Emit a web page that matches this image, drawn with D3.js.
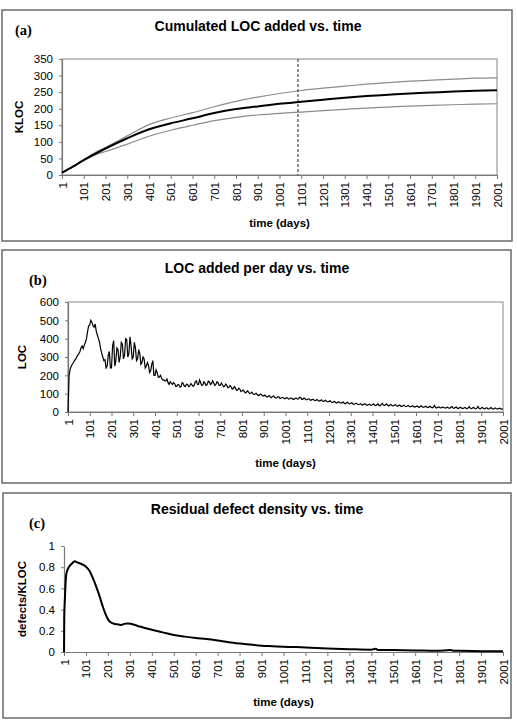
<!DOCTYPE html>
<html lang="en">
<head>
<meta charset="UTF-8">
<title>LOC and defect density vs. time</title>
<script src="https://d3js.org/d3.v7.min.js"></script>
<style>
  body { margin: 0; background: #fff; }
  svg text { font-family: "Liberation Sans", Arial, sans-serif; }
  .tick text { font-size: 11.5px; fill: #000; }
  .ttl { font-weight: bold; font-size: 14px; }
  .axt { font-weight: bold; font-size: 11.5px; }
  .tag { font-family: "Liberation Serif", "Times New Roman", serif; font-weight: bold; font-size: 14.5px; }
</style>
</head>
<body>
<div id="chart"></div>
<script>
// x categories shown on every panel
const xTickLabels = [1, 101, 201, 301, 401, 501, 601, 701, 801, 901, 1001,
                     1101, 1201, 1301, 1401, 1501, 1601, 1701, 1801, 1901, 2001];

// (a) cumulated KLOC
const daysA  = [1, 51, 101, 151, 201, 301, 401, 501, 601, 701, 801, 901, 1001, 1101, 1201, 1301, 1401, 1501, 1601, 1701, 1801, 1901, 2001];
const klocMean  = [7, 25, 45, 63, 80, 111, 138, 156, 171, 187, 199, 207, 215, 221, 227, 233, 238, 242, 246, 249, 252, 254, 256];
const klocUpper = [7, 25, 46, 67, 83, 118, 152, 172, 188, 206, 222, 235, 246, 255, 262, 268, 274, 279, 283, 286, 289, 292, 293];
const klocLower = [7, 25, 44, 60, 71, 93, 117, 135, 150, 164, 174, 181, 186, 190, 194, 198, 202, 205, 208, 210, 212, 214, 215];
const markerDay = 1086;
const yTicksA = [0, 50, 100, 150, 200, 250, 300, 350];

// (b) LOC added per day, one value every 5 days from day 1
const locPerDay = [
  0, 200, 235, 250, 262, 270, 280, 288, 300, 310,
  318, 330, 350, 360, 345, 365, 380, 400, 440, 470,
  475, 500, 490, 470, 462, 480, 440, 420, 400, 380,
  345, 320, 300, 280, 285, 240, 250, 310, 330, 240,
  240, 360, 390, 250, 280, 350, 340, 270, 300, 380,
  370, 290, 310, 400, 395, 300, 320, 410, 360, 290,
  300, 380, 350, 280, 290, 340, 320, 260, 270, 300,
  290, 240, 250, 270, 255, 215, 225, 260, 280, 200,
  200, 230, 215, 190, 190, 200, 185, 175, 175, 170,
  170, 180, 160, 150, 165, 158, 150, 160, 155, 140,
  140, 150, 148, 135, 138, 160, 155, 140, 140, 152,
  150, 138, 142, 155, 148, 140, 145, 165, 170, 150,
  150, 175, 160, 145, 148, 165, 158, 145, 150, 168,
  165, 150, 155, 170, 158, 145, 150, 165, 160, 145,
  145, 158, 150, 138, 140, 152, 145, 132, 135, 145,
  138, 125, 128, 138, 130, 118, 120, 130, 125, 112,
  115, 120, 112, 104, 108, 115, 110, 100, 102, 108,
  100, 95, 98, 102, 95, 90, 92, 98, 94, 88,
  88, 92, 86, 82, 85, 90, 82, 78, 84, 88,
  80, 76, 78, 84, 82, 74, 76, 80, 78, 72,
  74, 78, 76, 70, 72, 77, 74, 68, 70, 75,
  76, 70, 72, 80, 78, 68, 70, 76, 72, 66,
  68, 72, 70, 64, 66, 70, 67, 62, 64, 68,
  63, 60, 62, 66, 60, 57, 61, 64, 57, 55,
  58, 61, 55, 52, 54, 58, 52, 49, 53, 56,
  50, 48, 51, 54, 48, 45, 50, 53, 46, 44,
  48, 51, 44, 42, 45, 48, 43, 40, 42, 45,
  40, 38, 42, 45, 39, 36, 40, 43, 38, 36,
  41, 45, 37, 35, 40, 44, 36, 34, 42, 47,
  38, 35, 40, 44, 36, 33, 38, 41, 35, 33,
  37, 40, 34, 31, 35, 38, 32, 30, 34, 37,
  31, 29, 33, 36, 30, 28, 31, 34, 29, 27,
  30, 33, 28, 26, 30, 34, 27, 25, 29, 32,
  26, 24, 28, 31, 25, 23, 27, 36, 24, 22,
  26, 28, 24, 22, 25, 27, 23, 21, 24, 26,
  22, 20, 26, 30, 22, 20, 24, 27, 21, 19,
  23, 26, 21, 19, 22, 25, 20, 18, 24, 29,
  20, 18, 22, 26, 19, 17, 21, 30, 19, 17,
  22, 25, 19, 17, 20, 23, 18, 16, 20, 24,
  18, 16, 19, 22, 18, 16, 19, 21, 17, 16,
  18
];
const daysB = locPerDay.map((v, i) => 1 + i * 5);
const yTicksB = [0, 100, 200, 300, 400, 500, 600];

// (c) residual defect density
const daysC = [1, 2, 4, 7, 12, 23, 35, 51, 61, 75, 91, 101, 119, 134, 149, 164, 179, 194, 210, 232,
               250, 262, 275, 290, 308, 346, 401, 451, 501, 551, 601, 651, 701, 751, 801, 851, 901, 951,
               1001, 1101, 1201, 1301, 1401, 1421, 1431, 1501, 1601, 1701, 1761, 1781, 1801, 1901, 2001];
const defects = [0, 0.33, 0.45, 0.6, 0.74, 0.8, 0.83, 0.855, 0.845, 0.835, 0.82, 0.805, 0.76, 0.69, 0.61, 0.52, 0.42, 0.34, 0.285, 0.265,
                 0.26, 0.255, 0.265, 0.27, 0.265, 0.24, 0.21, 0.185, 0.16, 0.145, 0.132, 0.122, 0.108, 0.092, 0.08, 0.07, 0.06, 0.055,
                 0.05, 0.043, 0.034, 0.027, 0.022, 0.03, 0.02, 0.018, 0.015, 0.012, 0.018, 0.012, 0.011, 0.008, 0.006];
const yTicksC = [0, 0.2, 0.4, 0.6, 0.8, 1];

const W = 517, H = 720;
const svg = d3.select("#chart").append("svg")
    .attr("width", W).attr("height", H);

// outer frames
const frames = [[2, 10, 510, 231], [2, 250, 509, 233], [3, 493, 508, 225]];
svg.selectAll("rect.frame").data(frames).enter().append("rect")
    .attr("class", "frame")
    .attr("x", d => d[0]).attr("y", d => d[1])
    .attr("width", d => d[2]).attr("height", d => d[3])
    .attr("fill", "none").attr("stroke", "#6a6a6a").attr("stroke-width", 1.5);

function panel(p) {
  const x = d3.scaleLinear().domain([1, 2001]).range([p.left, p.right]);
  const y = d3.scaleLinear().domain(p.yDomain).range([p.bottom, p.top]);
  const g = svg.append("g");

  if (p.box) {
    g.append("rect")
      .attr("x", p.left).attr("y", p.top)
      .attr("width", p.right - p.left).attr("height", p.bottom - p.top)
      .attr("fill", "none").attr("stroke", "#9a9a9a").attr("stroke-width", 1.2);
  }

  const xa = g.append("g")
    .attr("transform", "translate(0," + p.bottom + ")")
    .call(d3.axisBottom(x).tickValues(xTickLabels).tickSize(4).tickSizeOuter(0).tickFormat(d3.format("d")));
  xa.selectAll(".tick text")
    .attr("transform", "rotate(-90)")
    .attr("text-anchor", "end")
    .attr("x", -7).attr("y", 0).attr("dy", "0.35em");

  const ya = g.append("g")
    .attr("transform", "translate(" + p.left + ",0)")
    .call(d3.axisLeft(y).tickValues(p.yTicks).tickSize(3).tickSizeOuter(0).tickPadding(6)
      .tickFormat(p.fmt || d3.format("d")));

  [xa, ya].forEach(a => {
    a.select(".domain").attr("stroke", "#777").attr("stroke-width", 1.2);
    a.selectAll(".tick line").attr("stroke", "#777");
  });

  svg.append("text").attr("class", "ttl")
    .attr("x", p.titleX).attr("y", p.titleY).attr("text-anchor", "middle").text(p.title);
  svg.append("text").attr("class", "tag")
    .attr("x", p.tagX).attr("y", p.tagY).text(p.tag);
  svg.append("text").attr("class", "axt")
    .attr("x", (p.left + p.right) / 2).attr("y", p.xTitleY)
    .attr("text-anchor", "middle").text("time (days)");
  svg.append("text").attr("class", "axt")
    .attr("transform", "translate(" + p.yTitleX + "," + ((p.top + p.bottom) / 2) + ") rotate(-90)")
    .attr("text-anchor", "middle").text(p.yTitle);

  return { x, y, g };
}

// (a)
const pa = panel({ left: 62, right: 497, top: 59, bottom: 175, yDomain: [0, 350], yTicks: yTicksA, box: true,
  title: "Cumulated LOC added vs. time", titleX: 258, titleY: 31, tag: "(a)", tagX: 15, tagY: 35,
  xTitleY: 227, yTitle: "KLOC", yTitleX: 23 });
const lineA = (vals) => d3.line().curve(d3.curveMonotoneX)
  .x((d, i) => pa.x(daysA[i])).y(d => pa.y(d))(vals);
pa.g.append("path").attr("d", lineA(klocUpper)).attr("fill", "none").attr("stroke", "#8c8c8c").attr("stroke-width", 1.2);
pa.g.append("path").attr("d", lineA(klocLower)).attr("fill", "none").attr("stroke", "#8c8c8c").attr("stroke-width", 1.2);
pa.g.append("path").attr("d", lineA(klocMean)).attr("fill", "none").attr("stroke", "#000").attr("stroke-width", 2);
pa.g.append("line")
  .attr("x1", pa.x(markerDay)).attr("x2", pa.x(markerDay))
  .attr("y1", pa.y(350)).attr("y2", pa.y(0))
  .attr("stroke", "#222").attr("stroke-width", 1).attr("stroke-dasharray", "3,2");

// (b)
const pb = panel({ left: 68, right: 503, top: 302, bottom: 412, yDomain: [0, 600], yTicks: yTicksB, box: true,
  title: "LOC added per day vs. time", titleX: 257, titleY: 273, tag: "(b)", tagX: 29, tagY: 285,
  xTitleY: 467, yTitle: "LOC", yTitleX: 26 });
pb.g.append("path")
  .attr("d", d3.line().x((d, i) => pb.x(daysB[i])).y(d => pb.y(d))(locPerDay))
  .attr("fill", "none").attr("stroke", "#000").attr("stroke-width", 1.2);

// (c)
const pc = panel({ left: 64, right: 503, top: 546, bottom: 652, yDomain: [0, 1], yTicks: yTicksC, box: false,
  fmt: d => d === 0 || d === 1 ? String(d) : d3.format(".1f")(d),
  title: "Residual defect density vs. time", titleX: 257, titleY: 514, tag: "(c)", tagX: 29, tagY: 528,
  xTitleY: 706, yTitle: "defects/KLOC", yTitleX: 26 });
pc.g.append("path")
  .attr("d", d3.line().curve(d3.curveMonotoneX).x((d, i) => pc.x(daysC[i])).y(d => pc.y(d))(defects))
  .attr("fill", "none").attr("stroke", "#000").attr("stroke-width", 2);
</script>
</body>
</html>
